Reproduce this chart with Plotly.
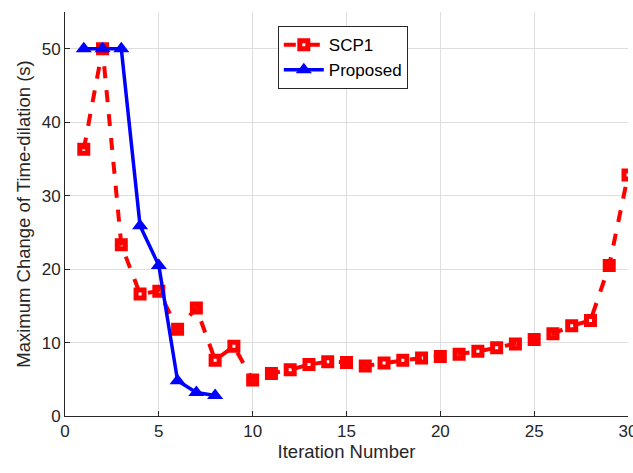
import plotly.graph_objects as go

iters_scp1 = list(range(1, 31))
scp1 = [36.3, 50.0, 23.3, 16.6, 17.0, 11.8, 14.7, 7.6, 9.5, 4.9,
        5.8, 6.3, 7.0, 7.4, 7.3, 6.8, 7.2, 7.6, 7.9, 8.1,
        8.4, 8.8, 9.3, 9.8, 10.4, 11.2, 12.3, 13.0, 20.5, 32.8]
iters_prop = list(range(1, 9))
proposed = [50.0, 50.0, 50.0, 25.9, 20.5, 4.8, 3.2, 2.8]

xticks = [0, 5, 10, 15, 20, 25, 30]
yticks = [0, 10, 20, 30, 40, 50]

fig = go.Figure()
fig.add_trace(go.Scatter(
    x=iters_scp1, y=scp1, name="SCP1", mode="lines+markers",
    line=dict(color="red", width=4, dash="dash"),
    marker=dict(symbol="square-open", size=8, color="red", line=dict(width=5, color="red")),
))
fig.add_trace(go.Scatter(
    x=iters_prop, y=proposed, name="Proposed", mode="lines+markers",
    line=dict(color="blue", width=3.5),
    marker=dict(symbol="triangle-up", size=14, color="blue"),
))

fig.update_layout(
    width=633, height=473,
    margin=dict(l=65, r=5, t=12, b=57),
    paper_bgcolor="white", plot_bgcolor="white",
    font=dict(family="Liberation Sans, Arial, sans-serif", size=17, color="#262626"),
    showlegend=True,
    legend=dict(x=0.378, y=0.965, xanchor="left", yanchor="top",
                bordercolor="#262626", borderwidth=1, bgcolor="white",
                font=dict(size=17, color="black"), tracegroupgap=0,
                itemwidth=40),
)
fig.update_xaxes(
    range=[0, 30], tickvals=xticks, showgrid=True, gridcolor="#dedede", gridwidth=1,
    showline=True, linecolor="#262626", linewidth=1, ticks="inside", ticklen=5,
    tickcolor="#262626", zeroline=False, ticklabeloverflow="allow", automargin=False,
    title=dict(text="Iteration Number", standoff=2, font=dict(size=18.5)),
)
fig.update_yaxes(
    range=[0, 55], tickvals=yticks, showgrid=True, gridcolor="#dedede", gridwidth=1,
    showline=True, linecolor="#262626", linewidth=1, ticks="inside", ticklen=5,
    tickcolor="#262626", zeroline=False, automargin=False,
    title=dict(text="Maximum Change of Time-dilation (s)", standoff=6, font=dict(size=18.5)),
)

fig.write_html("out.html")
